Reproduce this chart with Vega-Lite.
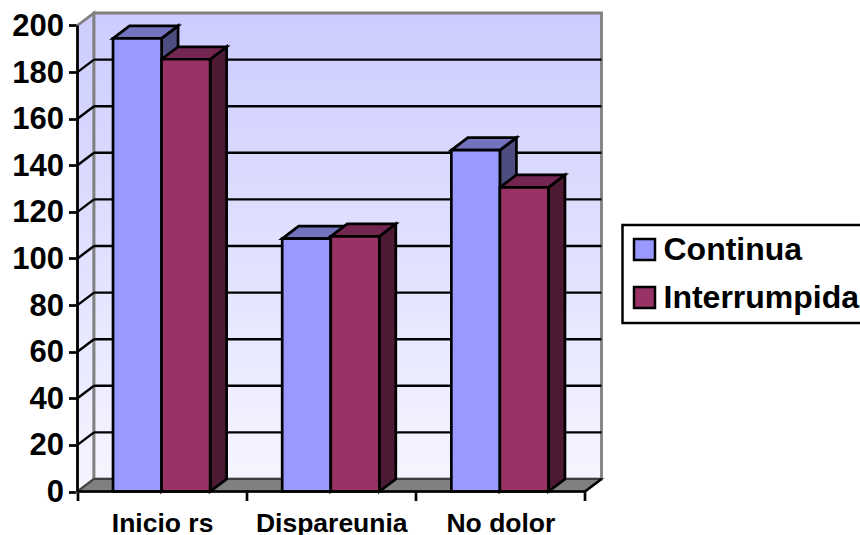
{
  "$schema": "https://vega.github.io/schema/vega-lite/v6.json",
  "width": 524,
  "height": 478.5,
  "padding": {"left": 77.5, "top": 13, "right": 258.5, "bottom": 43.5},
  "autosize": "none",
  "background": "white",
  "params": [
    {"name": "dx", "value": 0.0976},
    {"name": "dy", "value": 5.36}
  ],
  "data": {
    "values": [
      {"category": "Inicio rs", "series": "Continua", "value": 194.5},
      {"category": "Inicio rs", "series": "Interrumpida", "value": 185.5},
      {"category": "Dispareunia", "series": "Continua", "value": 108.5},
      {"category": "Dispareunia", "series": "Interrumpida", "value": 109.5},
      {"category": "No dolor", "series": "Continua", "value": 146.5},
      {"category": "No dolor", "series": "Interrumpida", "value": 130.5}
    ]
  },
  "transform": [
    {"calculate": "indexof(['Inicio rs','Dispareunia','No dolor'], datum.category)", "as": "slot"},
    {"calculate": "datum.series === 'Continua' ? 0 : 1", "as": "side"},
    {"calculate": "datum.slot + 0.21 + datum.side * 0.287", "as": "x0"},
    {"calculate": "datum.x0 + 0.287", "as": "x1"},
    {"calculate": "datum.category + datum.series", "as": "bar"}
  ],
  "encoding": {
    "x": {"type": "quantitative", "scale": {"domain": [0, 3.0976], "nice": false, "zero": false}},
    "y": {"type": "quantitative", "scale": {"domain": [0, 205.36], "nice": false}}
  },
  "layer": [
    {
      "data": {"values": [{"t": 0}, {"t": 1}]},
      "transform": [
        {"calculate": "datum.t * dx", "as": "wx"},
        {"calculate": "datum.t * dy", "as": "wy"},
        {"calculate": "200 + datum.t * dy", "as": "wy2"}
      ],
      "mark": {
        "type": "area",
        "orient": "vertical",
        "stroke": "#808080",
        "strokeWidth": 2.8,
        "fill": {"gradient": "linear", "x1": 0, "y1": 0, "x2": 0, "y2": 1, "stops": [{"offset": 0, "color": "#ccccff"}, {"offset": 1, "color": "#f5f5ff"}]}
      },
      "encoding": {
        "x": {"field": "wx", "type": "quantitative", "axis": {
          "title": null, "grid": false, "domain": false,
          "values": [0, 0.5, 1, 1.5, 2, 2.5, 3],
          "labelExpr": "datum.value % 1 === 0 ? '' : ['Inicio rs','Dispareunia','No dolor'][floor(datum.value)]",
          "tickOpacity": {"expr": "datum.value % 1 === 0 ? 1 : 0"},
          "tickSize": 9, "tickWidth": 2.7, "tickColor": "black",
          "labelFont": "Liberation Sans", "labelFontWeight": "bold", "labelFontSize": 26.5, "labelColor": "black",
          "labelPadding": 9.5, "labelFlush": false, "labelOverlap": false, "labelBound": false
        }},
        "y": {"field": "wy", "type": "quantitative", "axis": {
          "title": null, "grid": false, "domain": false,
          "values": [0, 20, 40, 60, 80, 100, 120, 140, 160, 180, 200],
          "tickSize": 9, "tickWidth": 2.7, "tickColor": "black",
          "labelFont": "Liberation Sans", "labelFontWeight": "bold", "labelFontSize": 31, "labelColor": "black",
          "labelPadding": 5, "labelOffset": 1, "labelOverlap": false, "labelBound": false
        }},
        "y2": {"field": "wy2"}
      }
    },
    {
      "data": {"values": [{"wall": "back"}]},
      "mark": {
        "type": "rect",
        "stroke": "#808080",
        "strokeWidth": 2.8,
        "fill": {"gradient": "linear", "x1": 0, "y1": 0, "x2": 0, "y2": 1, "stops": [{"offset": 0, "color": "#ccccff"}, {"offset": 1, "color": "#f5f5ff"}]}
      },
      "encoding": {
        "x": {"datum": 0.0976, "type": "quantitative"},
        "x2": {"datum": 3.0976},
        "y": {"datum": 5.36, "type": "quantitative"},
        "y2": {"datum": 205.36}
      }
    },
    {
      "data": {"values": [{"t": 0}, {"t": 1}]},
      "transform": [
        {"calculate": "datum.t * dx", "as": "fx"},
        {"calculate": "3 + datum.t * dx", "as": "fx2"},
        {"calculate": "datum.t * dy", "as": "fy"}
      ],
      "mark": {"type": "area", "orient": "horizontal", "fill": "#808080", "stroke": "#404040", "strokeWidth": 2},
      "encoding": {
        "y": {"field": "fy", "type": "quantitative"},
        "x": {"field": "fx", "type": "quantitative"},
        "x2": {"field": "fx2"}
      }
    },
    {
      "data": {"values": [{"tick": 20}, {"tick": 40}, {"tick": 60}, {"tick": 80}, {"tick": 100}, {"tick": 120}, {"tick": 140}, {"tick": 160}, {"tick": 180}]},
      "transform": [
        {"calculate": "datum.tick + dy", "as": "backY"}
      ],
      "layer": [
        {
          "mark": {"type": "rule", "color": "black", "strokeWidth": 2.4},
          "encoding": {
            "x": {"datum": 0.0976, "type": "quantitative"},
            "x2": {"datum": 3.0976},
            "y": {"field": "backY", "type": "quantitative"}
          }
        },
        {
          "mark": {"type": "rule", "color": "black", "strokeWidth": 2.4},
          "encoding": {
            "x": {"datum": 0, "type": "quantitative"},
            "x2": {"datum": 0.0976},
            "y": {"field": "tick", "type": "quantitative"},
            "y2": {"field": "backY"}
          }
        }
      ]
    },
    {
      "transform": [
        {"calculate": "[0, 1]", "as": "t"},
        {"flatten": ["t"]},
        {"calculate": "datum.x1 + datum.t * dx", "as": "sx"},
        {"calculate": "datum.value + datum.t * dy", "as": "sy"},
        {"calculate": "datum.t * dy", "as": "sy2"}
      ],
      "mark": {"type": "area", "orient": "vertical", "stroke": "black", "strokeWidth": 2.7, "strokeJoin": "miter"},
      "encoding": {
        "x": {"field": "sx", "type": "quantitative"},
        "y": {"field": "sy", "type": "quantitative"},
        "y2": {"field": "sy2"},
        "detail": {"field": "bar"},
        "fill": {"field": "series", "type": "nominal", "legend": null, "scale": {"range": ["#4d4d80", "#4d1a33"]}}
      }
    },
    {
      "transform": [
        {"calculate": "[0, 1]", "as": "t"},
        {"flatten": ["t"]},
        {"calculate": "datum.x0 + datum.t * dx", "as": "tx"},
        {"calculate": "datum.x1 + datum.t * dx", "as": "tx2"},
        {"calculate": "datum.value + datum.t * dy", "as": "ty"}
      ],
      "mark": {"type": "area", "orient": "horizontal", "stroke": "black", "strokeWidth": 2.7, "strokeJoin": "miter"},
      "encoding": {
        "y": {"field": "ty", "type": "quantitative"},
        "x": {"field": "tx", "type": "quantitative"},
        "x2": {"field": "tx2"},
        "detail": {"field": "bar"},
        "fill": {"field": "series", "type": "nominal", "legend": null, "scale": {"range": ["#7373bf", "#732650"]}}
      }
    },
    {
      "mark": {"type": "rect", "stroke": "black", "strokeWidth": 2.7},
      "encoding": {
        "x": {"field": "x0", "type": "quantitative"},
        "x2": {"field": "x1"},
        "y": {"field": "value", "type": "quantitative"},
        "y2": {"datum": 0},
        "fill": {
          "field": "series", "type": "nominal",
          "scale": {"domain": ["Continua", "Interrumpida"], "range": ["#9999ff", "#993366"]},
          "legend": {
            "title": null, "orient": "none", "legendX": 545, "legendY": 212,
            "fillColor": "white", "strokeColor": "black", "padding": 9.5, "cornerRadius": 0,
            "symbolType": "square", "symbolSize": 441, "symbolStrokeColor": "black", "symbolStrokeWidth": 2.5, "symbolOffset": -3.5,
            "labelFont": "Liberation Sans", "labelFontWeight": "bold", "labelFontSize": 32, "labelColor": "black",
            "labelOffset": 3, "rowPadding": 16, "clipHeight": 30, "labelLimit": 300
          }
        }
      }
    },
    {
      "data": {"values": [{"edge": "axis"}]},
      "layer": [
        {
          "mark": {"type": "rule", "color": "black", "strokeWidth": 2.7},
          "encoding": {"x": {"datum": 0, "type": "quantitative"}, "y": {"datum": 0, "type": "quantitative"}, "y2": {"datum": 200}}
        },
        {
          "mark": {"type": "rule", "color": "black", "strokeWidth": 2.7},
          "encoding": {"y": {"datum": 0, "type": "quantitative"}, "x": {"datum": 0, "type": "quantitative"}, "x2": {"datum": 3}}
        },
        {
          "mark": {"type": "rule", "color": "black", "strokeWidth": 2.4},
          "encoding": {"x": {"datum": 3, "type": "quantitative"}, "x2": {"datum": 3.0976}, "y": {"datum": 0, "type": "quantitative"}, "y2": {"datum": 5.36}}
        }
      ]
    }
  ],
  "resolve": {"scale": {"fill": "independent"}},
  "config": {"view": {"stroke": null}, "legend": {"strokeWidth": 2.5}}
}
